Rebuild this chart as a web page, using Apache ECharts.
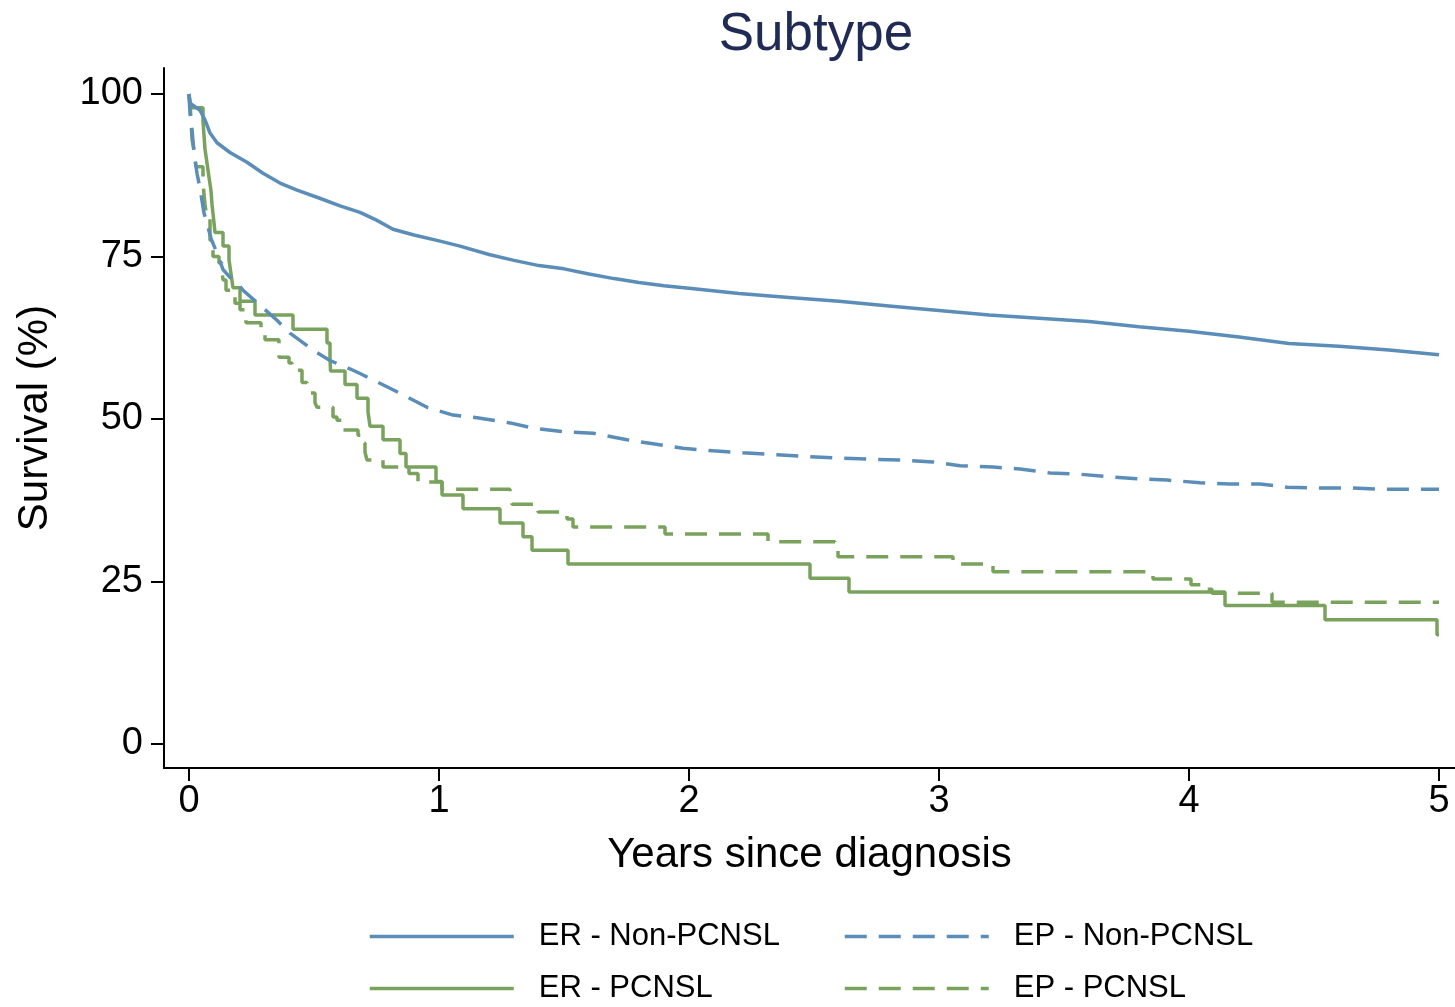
<!DOCTYPE html>
<html>
<head>
<meta charset="utf-8">
<title>Subtype</title>
<script src="https://cdn.jsdelivr.net/npm/echarts@6/dist/echarts.min.js"></script>
<style>
  html, body { margin: 0; padding: 0; background: #ffffff; }
  #chart { width: 1455px; height: 1007px; }
</style>
</head>
<body>
<div id="chart"></div>
<script>
// Axis ticks
const xTicks = [0, 1, 2, 3, 4, 5];
const yTicks = [0, 25, 50, 75, 100];

// ER - Non-PCNSL (years, survival %)
const erNonTime = [0, 0.004, 0.044, 0.064, 0.084, 0.112, 0.164, 0.232, 0.296, 0.364, 0.432, 0.52, 0.604, 0.684, 0.75, 0.816, 0.9, 1.0, 1.084, 1.2, 1.3, 1.4, 1.5, 1.6, 1.7, 1.8, 1.9, 2.0, 2.2, 2.4, 2.6, 2.8, 3.0, 3.2, 3.4, 3.6, 3.8, 4.0, 4.2, 4.4, 4.6, 4.8, 5.0];
const erNonSurv = [100, 98.6, 97.5, 96, 94, 92.5, 91, 89.5, 87.8, 86.3, 85.2, 84, 82.8, 81.8, 80.6, 79.2, 78.3, 77.4, 76.6, 75.3, 74.4, 73.6, 73.1, 72.3, 71.6, 71, 70.5, 70.1, 69.3, 68.7, 68.1, 67.4, 66.7, 66, 65.5, 65, 64.2, 63.5, 62.6, 61.6, 61.2, 60.6, 59.9];

// EP - Non-PCNSL
const epNonTime = [0, 0.004, 0.012, 0.02, 0.032, 0.044, 0.052, 0.06, 0.076, 0.088, 0.112, 0.136, 0.164, 0.192, 0.216, 0.284, 0.352, 0.404, 0.496, 0.564, 0.656, 0.684, 0.816, 0.952, 1.056, 1.152, 1.284, 1.376, 1.512, 1.616, 1.752, 1.856, 1.976, 2.096, 2.216, 2.352, 2.484, 2.604, 2.736, 2.844, 2.976, 3.084, 3.216, 3.324, 3.444, 3.564, 3.684, 3.792, 3.912, 4.044, 4.164, 4.284, 4.392, 4.524, 4.644, 4.764, 4.872, 5.0];
const epNonSurv = [100, 97, 94.5, 91, 87.8, 85.5, 83.6, 81.7, 79.5, 77.8, 75.5, 73, 71.8, 71, 69.8, 67.5, 65.2, 63.2, 60.6, 59, 57.5, 57, 54.5, 51.8, 50.6, 50.2, 49.4, 48.6, 48, 47.8, 46.8, 46.2, 45.5, 45.1, 44.8, 44.5, 44.2, 44, 43.8, 43.7, 43.4, 42.8, 42.6, 42.3, 41.7, 41.5, 41.1, 40.8, 40.6, 40.2, 40, 40, 39.5, 39.4, 39.4, 39.2, 39.2, 39.2];

// ER - PCNSL (Kaplan-Meier steps)
const erPcTime = [0, 0.004, 0.056, 0.06, 0.064, 0.072, 0.08, 0.088, 0.092, 0.098, 0.104, 0.136, 0.16, 0.168, 0.176, 0.204, 0.264, 0.416, 0.552, 0.564, 0.566, 0.624, 0.672, 0.716, 0.724, 0.776, 0.844, 0.868, 0.988, 1.012, 1.096, 1.244, 1.336, 1.372, 1.516, 2.484, 2.64, 4.144, 4.544, 4.992, 5.0];
const erPcSurv = [100, 97.9, 95.7, 93.6, 91.5, 89.4, 87.2, 85.1, 83.0, 80.9, 78.7, 76.6, 74.5, 72.3, 70.2, 68.1, 66.0, 63.8, 61.7, 59.6, 57.4, 55.3, 53.2, 51.1, 48.9, 46.8, 44.7, 42.6, 40.4, 38.3, 36.2, 34.0, 31.9, 29.8, 27.7, 25.5, 23.4, 21.3, 19.1, 16.8, 16.8];

// EP - PCNSL (Kaplan-Meier steps)
const epPcTime = [0, 0.004, 0.008, 0.012, 0.02, 0.028, 0.056, 0.06, 0.064, 0.072, 0.084, 0.096, 0.12, 0.132, 0.136, 0.148, 0.172, 0.184, 0.204, 0.228, 0.288, 0.304, 0.36, 0.4, 0.412, 0.452, 0.472, 0.48, 0.504, 0.512, 0.576, 0.592, 0.612, 0.676, 0.692, 0.704, 0.712, 0.776, 0.88, 0.916, 1.012, 1.284, 1.292, 1.396, 1.512, 1.536, 1.904, 2.316, 2.584, 2.596, 3.056, 3.216, 3.856, 4.008, 4.064, 4.092, 4.332, 5.0];
const epPcSurv = [100, 98.9, 96, 93, 91.4, 88.8, 86.8, 84.5, 83, 81, 77.5, 75, 74, 72.9, 71.4, 69.8, 69, 67.8, 66.8, 64.8, 63.4, 62.2, 59.5, 58.6, 57.5, 55.6, 55.0, 54.0, 52.5, 51.8, 50.3, 49.8, 48.3, 47.5, 46.3, 44.9, 43.7, 42.6, 41.6, 40.3, 39.2, 38.1, 36.9, 35.7, 34.6, 33.4, 32.3, 31.1, 30.0, 28.8, 27.7, 26.5, 25.4, 24.5, 23.8, 23.2, 21.8, 21.8];

const BLUE = '#5b8db9';
const GREEN = '#79a25c';
const FONT = "'Liberation Sans', Arial, Helvetica, sans-serif";
const LINE_W = 3.5;

function pairs(t, v) { return t.map((x, i) => [x, v[i]]); }

// One legend block per key so the two columns line up
function legendItem(name, left, top) {
  return {
    data: [name],
    left: left,
    top: top,
    padding: 0,
    orient: 'horizontal',
    itemWidth: 144,
    itemHeight: 14,
    selectedMode: false,
    itemStyle: { opacity: 0 },
    lineStyle: { width: LINE_W },
    textStyle: { fontFamily: FONT, fontSize: 31, color: '#000', padding: [0, 0, 0, 20] }
  };
}

const chart = echarts.init(document.getElementById('chart'), null, { renderer: 'canvas' });

chart.setOption({
  backgroundColor: '#ffffff',
  animation: false,
  title: {
    text: 'Subtype',
    left: 811,
    top: 4,
    textAlign: 'center',
    textStyle: { fontFamily: FONT, fontSize: 53, fontWeight: 'normal', color: '#1f2b54' }
  },
  legend: [
    legendItem('ER - Non-PCNSL', 368, 921),
    legendItem('EP - Non-PCNSL', 843, 921),
    legendItem('ER - PCNSL', 368, 973),
    legendItem('EP - PCNSL', 843, 973)
  ],
  grid: { left: 164, right: 0, top: 68, bottom: 239, containLabel: false },
  xAxis: {
    type: 'value',
    min: -0.1,
    max: 5.064,
    name: 'Years since diagnosis',
    nameLocation: 'middle',
    nameGap: 66,
    nameTextStyle: { fontFamily: FONT, fontSize: 42, color: '#000' },
    axisLine: { show: true, onZero: false, lineStyle: { color: '#000', width: 2 } },
    axisTick: { show: true, length: 13, lineStyle: { color: '#000', width: 2 }, customValues: xTicks },
    axisLabel: { fontFamily: FONT, fontSize: 38, color: '#000', margin: 15, customValues: xTicks },
    splitLine: { show: false }
  },
  yAxis: {
    type: 'value',
    min: -3.692,
    max: 104.0,
    name: 'Survival (%)',
    nameLocation: 'middle',
    nameGap: 108,
    nameTextStyle: { fontFamily: FONT, fontSize: 42, color: '#000' },
    axisLine: { show: true, onZero: false, lineStyle: { color: '#000', width: 2 } },
    axisTick: { show: true, length: 13, lineStyle: { color: '#000', width: 2 }, customValues: yTicks },
    axisLabel: { fontFamily: FONT, fontSize: 38, color: '#000', margin: 21, customValues: yTicks },
    splitLine: { show: false }
  },
  series: [
    {
      name: 'ER - Non-PCNSL', type: 'line', symbol: 'none', z: 4,
      data: pairs(erNonTime, erNonSurv),
      lineStyle: { color: BLUE, width: LINE_W, type: 'solid' },
      itemStyle: { color: BLUE }
    },
    {
      name: 'EP - Non-PCNSL', type: 'line', symbol: 'none', z: 3,
      data: pairs(epNonTime, epNonSurv),
      lineStyle: { color: BLUE, width: LINE_W, type: [22, 12] },
      itemStyle: { color: BLUE }
    },
    {
      name: 'ER - PCNSL', type: 'line', symbol: 'none', step: 'end', z: 2,
      data: pairs(erPcTime, erPcSurv),
      lineStyle: { color: GREEN, width: LINE_W, type: 'solid' },
      itemStyle: { color: GREEN }
    },
    {
      name: 'EP - PCNSL', type: 'line', symbol: 'none', step: 'end', z: 1,
      data: pairs(epPcTime, epPcSurv),
      lineStyle: { color: GREEN, width: LINE_W, type: [22, 12] },
      itemStyle: { color: GREEN }
    }
  ]
});
</script>
</body>
</html>
